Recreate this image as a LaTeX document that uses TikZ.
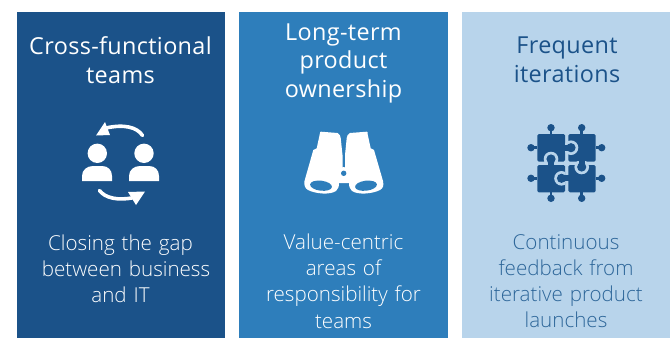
\documentclass[tikz,border=0pt]{standalone}
\usepackage{fontspec}
\setmainfont{Open Sans Light}
\newfontfamily\titlefont[LetterSpace=1.5]{Open Sans}
\definecolor{cdark}{HTML}{1B5289}
\definecolor{cmid}{HTML}{2E7EBB}
\definecolor{clight}{HTML}{B8D4EB}
\definecolor{ctext}{HTML}{2D6699}
\tikzset{
  panel/.style={fill=#1,draw=none,minimum height=326pt,anchor=north west,inner sep=0pt,outer sep=0pt},
  titletext/.style={text=#1,align=center,font=\titlefont\fontsize{23.4}{28.5}\selectfont,inner sep=0pt,text width=204pt},
  bodytext/.style={text=#1,align=center,font=\fontsize{20.6}{26.2}\selectfont,inner sep=0pt,text width=204pt},
}
\newcommand{\pzknob}[8]{% centre x,y; neck end x,y; clip rectangle
  \begin{scope}
    \clip (#5,#6) rectangle (#7,#8);
    \fill[clight] (#1,#2) circle (7.3);
  \end{scope}
  \draw[cdark,line width=6pt] (#1,#2) -- (#3,#4);
  \fill[cdark] (#1,#2) circle (4.6);
}
\begin{document}
\begin{tikzpicture}[x=1pt,y=-1pt]
\useasboundingbox (0,0) rectangle (670,338);
\node[panel=cdark,minimum width=208pt] (p1) at (17,12) {};
\node[panel=cmid,minimum width=209pt] (p2) at (239,12) {};
\node[panel=clight,minimum width=208pt] (p3) at (462,12) {};
\node[titletext=white] (t1) at (120.5,60) {Cross-functional\\teams};
\node[titletext=white] (t2) at (343.5,63) {Long-term\\product\\ownership};
\node[titletext=cdark] (t3) at (567,60) {Frequent\\iterations};
\node[bodytext=white] (b1) at (120.5,268.5) {Closing the gap\\\hspace*{11pt}between business\\and IT};
\node[bodytext=white] (b2) at (343.5,281) {Value-centric\\areas of\\responsibility for\\teams};
\node[bodytext=ctext] (b3) at (566,281) {Continuous\\feedback from\\iterative product\\launches};
% people icon
\fill[white] (97.3,153.3) circle (9.7) (144,153.3) circle (9.7);
\fill[white] (82,181) -- (82,176) .. controls (82,170) and (87,166) .. (93,166) -- (102,166) .. controls (108,166) and (112,170) .. (112,176) -- (112,181) -- cycle;
\fill[white] (129,181) -- (129,176) .. controls (129,170) and (134,166) .. (140,166) -- (149,166) .. controls (155,166) and (159,170) .. (159,176) -- (159,181) -- cycle;
\draw[white,line width=3.6pt,line cap=round] (142.5,135.5) .. controls (137,127) and (124,124) .. (106,128);
\fill[white] (96,135.5) -- (105,122) -- (110,135) -- cycle;
\draw[white,line width=3.6pt,line cap=round] (99.5,190.5) .. controls (105,198) and (118,201) .. (134,197.5);
\fill[white] (145,191.5) -- (136,205) -- (128,192) -- cycle;
% binoculars
\fill[white] (321,131.7) -- (337.5,133) .. controls (339.5,134) and (340.7,136) .. (340.7,138) -- (342.5,155) -- (342.5,170) -- (345,170) -- (345,155) -- (346.7,138) .. controls (346.7,136) and (348,134) .. (350,133) -- (366.5,131.7) .. controls (368,131.7) and (367.4,132) .. (367.6,134) -- (370.7,148.3) -- (374,150) -- (383,181) .. controls (384,186) and (383,188) .. (380,190) .. controls (372,194) and (358,195) .. (352,191) .. controls (350,189) and (349,187) .. (349,183) -- (339,183) .. controls (339,187) and (338,189) .. (336,191) .. controls (330,195) and (316,194) .. (308,190) .. controls (305,188) and (304,186) .. (304.5,181) -- (313.3,150) -- (316.7,148.3) -- (319.8,134) .. controls (320,132) and (320,131.7) .. (321,131.7) -- cycle;
\fill[white] (343.7,173.3) circle (6.2);
\fill[cmid] (343.7,173.3) circle (2.7);
\fill[cmid,rotate around={-7:(321,185.7)}] (321,185.7) ellipse (11 and 5);
\fill[cmid,rotate around={7:(366,185.7)}] (366,185.7) ellipse (11 and 5);
% puzzle icon
\fill[cdark,rounded corners=1.5pt] (537.3,134) rectangle (565,161.7);
\fill[cdark,rounded corners=1.5pt] (568.3,134) rectangle (595.7,161.7);
\fill[cdark,rounded corners=1.5pt] (537.3,165) rectangle (565,192.3);
\fill[cdark,rounded corners=1.5pt] (568.3,165) rectangle (595.7,192.3);
\foreach \a/\b/\c/\d in {551/127.7/551/134, 581.7/127.7/581.7/134, 531/147.7/537.3/147.7, 601.7/147.7/595.7/147.7, 531/178.3/537.3/178.3, 601.7/178.3/595.7/178.3, 551/198.3/551/192.3, 581.7/198.3/581.7/192.3}{
  \draw[cdark,line width=2.5pt] (\a,\b) -- (\c,\d);
  \fill[cdark] (\a,\b) circle (3.7);
}
\pzknob{571}{147.7}{564}{147.7}{565}{130}{600}{165}
\pzknob{551}{159}{551}{166}{530}{130}{568}{161.7}
\pzknob{561.5}{178.3}{569}{178.3}{530}{165}{565}{200}
\pzknob{581.7}{167}{581.7}{160}{568}{161.7}{600}{200}
\end{tikzpicture}
\end{document}
